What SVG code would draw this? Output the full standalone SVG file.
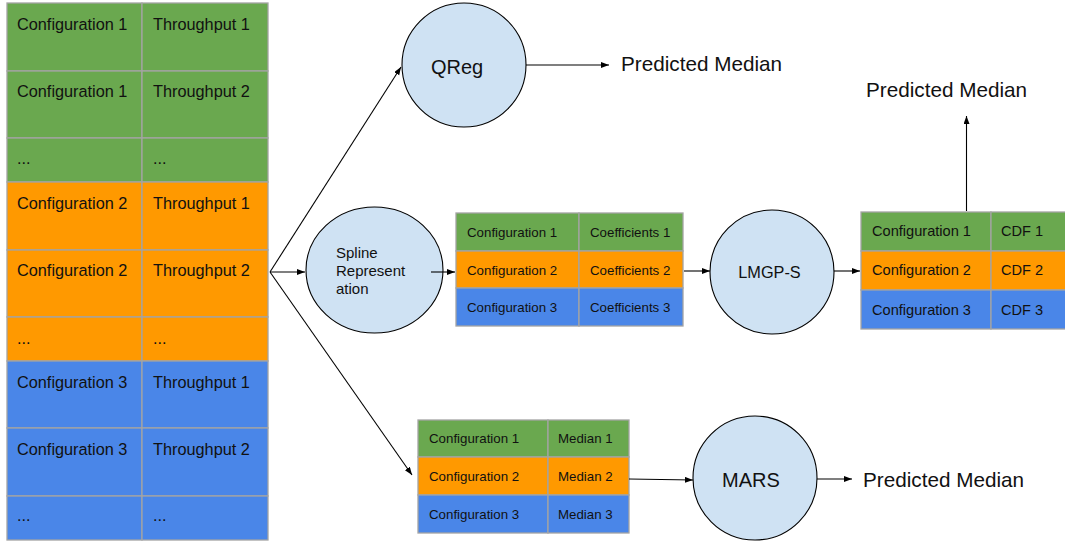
<svg xmlns="http://www.w3.org/2000/svg" width="1065" height="541" viewBox="0 0 1065 541">
<defs>
<marker id="ah" markerUnits="userSpaceOnUse" markerWidth="9" markerHeight="7" refX="8" refY="3" orient="auto">
<path d="M0,0 L8,3 L0,6 z" fill="#000"/>
</marker>
<style>
.g{fill:#6aa84f}.o{fill:#ff9900}.b{fill:#4a86e8}
.cell{stroke:#a4a4a4;stroke-width:1.3}
text{font-family:"Liberation Sans",Arial,sans-serif;fill:#111}
.t16{font-size:16.3px}.t13{font-size:13.3px}.t14{font-size:14.6px}.t15{font-size:15px}
.big{font-size:20.7px}
.node{fill:#cfe2f3;stroke:#000;stroke-width:1.1}
.con{stroke:#000;stroke-width:1.1;fill:none;marker-end:url(#ah)}
</style>
</defs>
<rect width="1065" height="541" fill="#fff"/>

<g id="data-table">
<rect class="cell g" x="7" y="3" width="135" height="68"/><rect class="cell g" x="142" y="3" width="126" height="68"/>
<rect class="cell g" x="7" y="71" width="135" height="67"/><rect class="cell g" x="142" y="71" width="126" height="67"/>
<rect class="cell g" x="7" y="138" width="135" height="44"/><rect class="cell g" x="142" y="138" width="126" height="44"/>
<rect class="cell o" x="7" y="182" width="135" height="68"/><rect class="cell o" x="142" y="182" width="126" height="68"/>
<rect class="cell o" x="7" y="250" width="135" height="67"/><rect class="cell o" x="142" y="250" width="126" height="67"/>
<rect class="cell o" x="7" y="317" width="135" height="44"/><rect class="cell o" x="142" y="317" width="126" height="44"/>
<rect class="cell b" x="7" y="361" width="135" height="67"/><rect class="cell b" x="142" y="361" width="126" height="67"/>
<rect class="cell b" x="7" y="428" width="135" height="68"/><rect class="cell b" x="142" y="428" width="126" height="68"/>
<rect class="cell b" x="7" y="496" width="135" height="44"/><rect class="cell b" x="142" y="496" width="126" height="44"/>
<g class="t16">
<text x="17" y="30">Configuration 1</text><text x="153" y="30">Throughput 1</text>
<text x="17" y="97">Configuration 1</text><text x="153" y="97">Throughput 2</text>
<text x="17" y="164">...</text><text x="153" y="164">...</text>
<text x="17" y="209">Configuration 2</text><text x="153" y="209">Throughput 1</text>
<text x="17" y="276">Configuration 2</text><text x="153" y="276">Throughput 2</text>
<text x="17" y="344">...</text><text x="153" y="344">...</text>
<text x="17" y="388">Configuration 3</text><text x="153" y="388">Throughput 1</text>
<text x="17" y="455">Configuration 3</text><text x="153" y="455">Throughput 2</text>
<text x="17" y="521">...</text><text x="153" y="521">...</text>
</g>
</g>

<g id="qreg">
<circle class="node" cx="464" cy="65" r="62"/>
<text x="457" y="74" text-anchor="middle" style="font-size:20px">QReg</text>
</g>
<g id="qreg-out"><text class="big" x="621" y="71">Predicted Median</text></g>

<g id="spline">
<ellipse class="node" cx="374.5" cy="270" rx="68.5" ry="63"/>
<text class="t15" x="336" y="258">Spline</text>
<text class="t15" x="336" y="276">Represent</text>
<text class="t15" x="336" y="294">ation</text>
</g>

<g id="coef-table">
<rect class="cell g" x="456" y="213" width="123" height="38"/><rect class="cell g" x="579" y="213" width="104" height="38"/>
<rect class="cell o" x="456" y="251" width="123" height="37"/><rect class="cell o" x="579" y="251" width="104" height="37"/>
<rect class="cell b" x="456" y="288" width="123" height="38"/><rect class="cell b" x="579" y="288" width="104" height="38"/>
<g class="t13">
<text x="467" y="237">Configuration 1</text><text x="590" y="237">Coefficients 1</text>
<text x="467" y="275">Configuration 2</text><text x="590" y="275">Coefficients 2</text>
<text x="467" y="312">Configuration 3</text><text x="590" y="312">Coefficients 3</text>
</g>
</g>

<g id="lmgps">
<circle class="node" cx="772" cy="272" r="62"/>
<text x="769.5" y="278" text-anchor="middle" style="font-size:16.3px">LMGP-S</text>
</g>

<g id="cdf-table">
<rect class="cell g" x="861" y="212" width="130" height="39"/><rect class="cell g" x="991" y="212" width="80" height="39"/>
<rect class="cell o" x="861" y="251" width="130" height="39"/><rect class="cell o" x="991" y="251" width="80" height="39"/>
<rect class="cell b" x="861" y="290" width="130" height="39"/><rect class="cell b" x="991" y="290" width="80" height="39"/>
<g class="t14">
<text x="872" y="236">Configuration 1</text><text x="1001" y="236">CDF 1</text>
<text x="872" y="275">Configuration 2</text><text x="1001" y="275">CDF 2</text>
<text x="872" y="315">Configuration 3</text><text x="1001" y="315">CDF 3</text>
</g>
</g>
<g id="cdf-out"><text class="big" x="866" y="97">Predicted Median</text></g>

<g id="median-table">
<rect class="cell g" x="418" y="420" width="130" height="37"/><rect class="cell g" x="548" y="420" width="81" height="37"/>
<rect class="cell o" x="418" y="457" width="130" height="38"/><rect class="cell o" x="548" y="457" width="81" height="38"/>
<rect class="cell b" x="418" y="495" width="130" height="38"/><rect class="cell b" x="548" y="495" width="81" height="38"/>
<g class="t13">
<text x="429" y="443">Configuration 1</text><text x="558" y="443">Median 1</text>
<text x="429" y="481">Configuration 2</text><text x="558" y="481">Median 2</text>
<text x="429" y="519">Configuration 3</text><text x="558" y="519">Median 3</text>
</g>
</g>

<g id="mars">
<circle class="node" cx="755" cy="478" r="62"/>
<text x="751" y="487" text-anchor="middle" style="font-size:20px">MARS</text>
</g>
<g id="mars-out"><text class="big" x="863" y="487">Predicted Median</text></g>

<g id="connectors">
<line class="con" x1="270" y1="272" x2="401" y2="67"/>
<line class="con" x1="270" y1="272" x2="305" y2="272"/>
<line class="con" x1="270" y1="272" x2="412" y2="475"/>
<line class="con" x1="526" y1="65" x2="609" y2="65"/>
<line class="con" x1="431" y1="272" x2="455" y2="272"/>
<line class="con" x1="684" y1="271" x2="710" y2="271"/>
<line class="con" x1="834" y1="271" x2="860" y2="271"/>
<line class="con" x1="966.5" y1="211" x2="966.5" y2="116"/>
<line class="con" x1="629" y1="479" x2="693" y2="480"/>
<line class="con" x1="817" y1="479" x2="852" y2="479"/>
</g>
</svg>
